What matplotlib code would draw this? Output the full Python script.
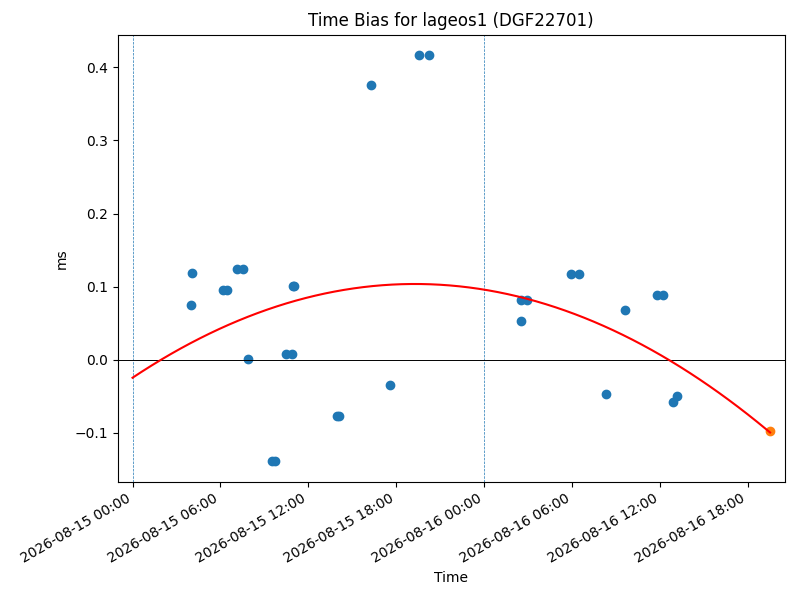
import numpy as np
import pandas as pd
import matplotlib
matplotlib.use("Agg")
import matplotlib.pyplot as plt
import matplotlib.dates as mdates

## time bias observations
obs_time = ["2026-08-15 04:05", "2026-08-15 04:01", "2026-08-15 06:12", "2026-08-15 06:26",
            "2026-08-15 07:08", "2026-08-15 07:34", "2026-08-15 07:54", "2026-08-15 09:30",
            "2026-08-15 09:44", "2026-08-15 10:29", "2026-08-15 10:55", "2026-08-15 10:57",
            "2026-08-15 11:03", "2026-08-15 13:56", "2026-08-15 14:07", "2026-08-15 16:18",
            "2026-08-15 17:36", "2026-08-15 19:35", "2026-08-15 20:16", "2026-08-16 02:31",
            "2026-08-16 02:55", "2026-08-16 02:31", "2026-08-16 05:57", "2026-08-16 06:30",
            "2026-08-16 08:20", "2026-08-16 09:38", "2026-08-16 11:49", "2026-08-16 12:14",
            "2026-08-16 12:53", "2026-08-16 13:09"]
obs_bias = [0.119, 0.075, 0.0956, 0.0956,
            0.1244, 0.1244, 0.001, -0.139,
            -0.139, 0.008, 0.008, 0.101,
            0.101, -0.0764, -0.0772, 0.3754,
            -0.0347, 0.4166, 0.4166, 0.0823,
            0.0823, 0.0531, 0.1176, 0.1176,
            -0.047, 0.0682, 0.0888, 0.0888,
            -0.058, -0.0494]

# predicted point
pred_time = ["2026-08-16 19:32"]
pred_bias = [-0.0978]

# quadratic fit (hours since start of day 1)
fit_coef = [-0.000345, 0.0133, -0.0245]
day_lines = ["2026-08-15 00:00", "2026-08-16 00:00"]
t0 = pd.Timestamp("2026-08-15 00:00")

obs_t = pd.to_datetime(obs_time)
pred_t = pd.to_datetime(pred_time)

fit_t = pd.date_range(t0, pred_t[0], periods=200)
fit_h = (fit_t - t0) / pd.Timedelta(hours=1)
fit_y = np.polyval(fit_coef, fit_h)

fig, ax = plt.subplots(figsize=(8, 6), dpi=100)
for d in day_lines:
    ax.axvline(pd.Timestamp(d), color="C0", linestyle="--", linewidth=0.5)
ax.axhline(0, color="black", linewidth=0.7)
ax.scatter(obs_t, obs_bias, color="C0")
ax.plot(fit_t, fit_y, color="red")
ax.scatter(pred_t, pred_bias, color="C1")

ax.set_xlim(t0 - pd.Timedelta(hours=1.02), t0 + pd.Timedelta(hours=44.54))
ax.xaxis.set_major_locator(mdates.HourLocator(byhour=[0, 6, 12, 18]))
ax.xaxis.set_major_formatter(mdates.DateFormatter("%Y-%m-%d %H:%M"))
plt.setp(ax.get_xticklabels(), rotation=30, ha="right")

ax.set_title("Time Bias for lageos1 (DGF22701)")
ax.set_xlabel("Time")
ax.set_ylabel("ms")

plt.subplots_adjust(left=0.147, right=0.981, top=0.942, bottom=0.197)
plt.savefig("out.png")
